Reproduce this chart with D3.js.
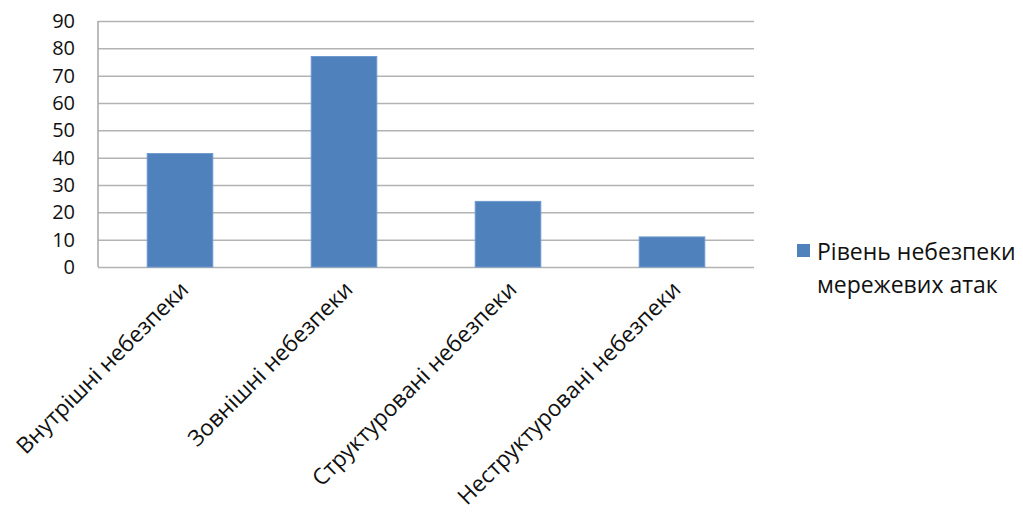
<!DOCTYPE html>
<html>
<head>
<meta charset="utf-8">
<script src="https://cdn.jsdelivr.net/npm/d3@7"></script>
<style>
  body { margin: 0; background: #fff; }
  svg text { font-family: "Open Sans", sans-serif; fill: #111; }
  .grid line { stroke: #b3b3b3; stroke-width: 1.5; }
  .grid path { display: none; }
</style>
</head>
<body>
<div id="chart"></div>
<script>
// data
const categories = ["Внутрішні небезпеки", "Зовнішні небезпеки", "Структуровані небезпеки", "Неструктуровані небезпеки"];
const values = [41.5, 77, 24, 11];
const yTicks = [0, 10, 20, 30, 40, 50, 60, 70, 80, 90];
const seriesName = ["Рівень небезпеки", "мережевих атак"];

const width = 1023, height = 522,
  margin = { top: 21, left: 98, right: 269, bottom: 255 };

const svg = d3.select("#chart").append("svg")
  .attr("width", width)
  .attr("height", height);

const x = d3.scaleBand()
  .domain(categories)
  .range([margin.left, width - margin.right])
  .paddingInner(0.6)
  .paddingOuter(0.3);

const y = d3.scaleLinear()
  .domain([0, 90])
  .range([height - margin.bottom, margin.top]);

// gridlines
svg.append("g")
  .attr("class", "grid")
  .attr("transform", `translate(${margin.left},0)`)
  .call(d3.axisLeft(y).tickValues(yTicks).tickSize(-(width - margin.left - margin.right)).tickFormat(""));

// left axis line
svg.append("line")
  .attr("x1", margin.left).attr("x2", margin.left)
  .attr("y1", y(90)).attr("y2", y(0))
  .attr("stroke", "#a6a6a6").attr("stroke-width", 1.5);

// y labels
const yAxis = svg.append("g")
  .attr("transform", `translate(${margin.left},0)`)
  .call(d3.axisLeft(y).tickValues(yTicks).tickSize(0).tickPadding(23));
yAxis.select(".domain").remove();
yAxis.selectAll("text").style("font-size", "20px").attr("fill", "#111");

// bars
svg.selectAll("rect.bar")
  .data(values)
  .join("rect")
  .attr("class", "bar")
  .attr("x", (d, i) => x(categories[i]))
  .attr("y", d => y(d))
  .attr("width", x.bandwidth())
  .attr("height", d => y(0) - y(d))
  .attr("fill", "#4f81bd")
  .attr("stroke", "#6f98cc")
  .attr("stroke-width", 1);

// rotated category labels
svg.selectAll("text.cat")
  .data(categories)
  .join("text")
  .attr("class", "cat")
  .attr("text-anchor", "end")
  .style("font-size", "22.5px")
  .attr("transform", d => `translate(${x(d) + x.bandwidth() / 2 + 10},${y(0) + 24}) rotate(-45)`)
  .text(d => d);

// legend
const legend = svg.append("g").attr("transform", "translate(797,244)");
legend.append("rect")
  .attr("width", 13).attr("height", 13)
  .attr("fill", "#4f81bd");
legend.selectAll("text")
  .data(seriesName)
  .join("text")
  .attr("x", 20)
  .attr("y", (d, i) => 16 + i * 33)
  .style("font-size", "23px")
  .text(d => d);
</script>
</body>
</html>
